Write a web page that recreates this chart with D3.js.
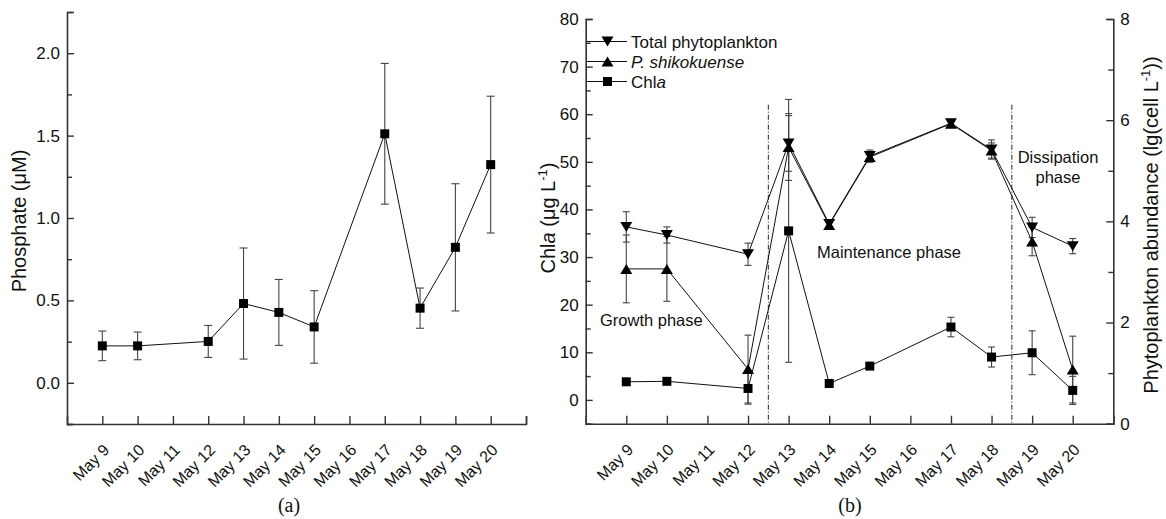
<!DOCTYPE html>
<html>
<head>
<meta charset="utf-8">
<script src="https://cdn.jsdelivr.net/npm/d3@7"></script>
<style>
  body { margin: 0; background: #fff; }
  svg { display: block; font-family: Arial, "Liberation Sans", sans-serif; }
  text { fill: #111; }
  .caption { font-family: "Liberation Serif", "Times New Roman", serif; }
</style>
</head>
<body>
<svg id="chart" width="1166" height="519"></svg>
<script>
// Sampling days (May) and axis tick days
const days = [9, 10, 12, 13, 14, 15, 17, 18, 19, 20];
const tickDays = [9, 10, 11, 12, 13, 14, 15, 16, 17, 18, 19, 20, 21];
const tickLabels = ["May 9", "May 10", "May 11", "May 12", "May 13", "May 14",
                    "May 15", "May 16", "May 17", "May 18", "May 19", "May 20"];

// (a) Phosphate, µM
const phosphate    = [0.224, 0.224, 0.251, 0.481, 0.427, 0.339, 1.511, 0.453, 0.822, 1.324];
const phosphateErr = [0.090, 0.084, 0.097, 0.337, 0.200, 0.220, 0.427, 0.122, 0.386, 0.415];

// (b) Chla, µg L-1
const chla    = [3.8, 3.9, 2.4, 35.5, 3.45, 7.1, 15.3, 9.0, 9.9, 2.0];
const chlaErr = [0.5, 0.5, 3.3, 27.6, 0.6, 0.5, 2.05, 2.1, 4.6, 2.95];

// (b) Phytoplankton abundance, lg(cell L-1)
const totalPhyto    = [3.89, 3.73, 3.35, 5.54, 3.95, 5.29, 5.94, 5.42, 3.88, 3.51];
const totalPhytoErr = [0.30, 0.16, 0.22, 0.55, 0.06, 0.12, 0.05, 0.19, 0.20, 0.15];
const shikokuense    = [3.06, 3.06, 1.08, 5.47, 3.93, 5.27, 5.93, 5.40, 3.60, 1.07];
const shikokuenseErr = [0.67, 0.64, 0.67, 0.66, 0.06, 0.10, 0.05, 0.15, 0.28, 0.66];

// Axis tick values
const phosTicks = [0.0, 0.5, 1.0, 1.5, 2.0];
const phosMinor = [-0.25, 0.25, 0.75, 1.25, 1.75, 2.25];
const chlTicks = [0, 10, 20, 30, 40, 50, 60, 70, 80];
const chlMinor = [-5, 5, 15, 25, 35, 45, 55, 65, 75];
const abTicks = [0, 2, 4, 6, 8];
const abMinor = [1, 3, 5, 7];

// Phase boundaries (day positions) in panel (b)
const phaseBounds = [12.5, 18.5];

const svg = d3.select("#chart");
const AXIS = "#333";
const ERR = "#444";

function squarePath(s) { const h = s / 2; return `M${-h},${-h}H${h}V${h}H${-h}Z`; }
function triUp(w, h) { return `M0,${-h/2}L${w/2},${h/2}L${-w/2},${h/2}Z`; }
function triDown(w, h) { return `M0,${h/2}L${w/2},${-h/2}L${-w/2},${-h/2}Z`; }

function drawXAxis(g, x, y0) {
  const ax = g.append("g").attr("transform", `translate(0,${y0})`)
    .call(d3.axisBottom(x).tickValues(tickDays).tickSize(-8).tickFormat(""));
  ax.select(".domain").attr("stroke", AXIS).attr("stroke-width", 1.6);
  ax.selectAll(".tick line").attr("stroke", AXIS).attr("stroke-width", 1.4);
  g.append("g").selectAll("text").data(tickLabels).join("text")
    .attr("transform", (d, i) => `translate(${x(tickDays[i]) + 8},${y0 + 27}) rotate(-45)`)
    .attr("text-anchor", "end")
    .attr("font-size", 16)
    .text(d => d);
}

function drawYAxis(g, y, x0, ticks, minor, fmt, side) {
  const gen = side === "left" ? d3.axisLeft(y) : d3.axisRight(y);
  const ax = g.append("g").attr("transform", `translate(${x0},0)`)
    .call(gen.tickValues(ticks).tickSize(-7).tickPadding(7).tickFormat(fmt));
  ax.attr("font-family", null).attr("font-size", null);
  ax.select(".domain").attr("stroke", AXIS).attr("stroke-width", 1.6);
  ax.selectAll(".tick line").attr("stroke", AXIS).attr("stroke-width", 1.4);
  ax.selectAll(".tick text").attr("font-size", 17).attr("fill", "#111");
  const mg = g.append("g").attr("transform", `translate(${x0},0)`)
    .call((side === "left" ? d3.axisLeft(y) : d3.axisRight(y))
      .tickValues(minor).tickSize(-5).tickFormat(""));
  mg.select(".domain").remove();
  mg.selectAll(".tick line").attr("stroke", AXIS).attr("stroke-width", 1.4);
}

function drawErrorBars(g, x, y, vals, errs, capW) {
  const pts = days.map((d, i) => ({ d, v: vals[i], e: errs[i] }));
  const eg = g.append("g").attr("stroke", ERR).attr("stroke-width", 1.1).attr("fill", "none");
  pts.forEach(p => {
    const cx = x(p.d), t = y(p.v + p.e), b = y(p.v - p.e);
    eg.append("line").attr("x1", cx).attr("x2", cx).attr("y1", t).attr("y2", b);
    eg.append("line").attr("x1", cx - capW / 2).attr("x2", cx + capW / 2).attr("y1", t).attr("y2", t);
    eg.append("line").attr("x1", cx - capW / 2).attr("x2", cx + capW / 2).attr("y1", b).attr("y2", b);
  });
  return pts;
}

function drawLineMarkers(g, x, y, pts, shape) {
  g.append("path").datum(pts)
    .attr("fill", "none").attr("stroke", "#111").attr("stroke-width", 1)
    .attr("d", d3.line().x(p => x(p.d)).y(p => y(p.v)));
  g.append("g").selectAll("path").data(pts).join("path")
    .attr("transform", p => `translate(${x(p.d)},${y(p.v)})`)
    .attr("d", shape).attr("fill", "#000");
}

// ---------- Panel (a): phosphate ----------
const ga = svg.append("g");
const xa = d3.scaleLinear().domain([8, 21]).range([67, 526]);
const ya = d3.scaleLinear().domain([-0.25, 2.25]).range([424, 12]);

drawYAxis(ga, ya, 67, phosTicks, phosMinor, d3.format(".1f"), "left");
drawXAxis(ga, xa, 424);

const phosPts = drawErrorBars(ga, xa, ya, phosphate, phosphateErr, 8);
drawLineMarkers(ga, xa, ya, phosPts, squarePath(9));

ga.append("text")
  .attr("transform", `translate(26,221) rotate(-90)`)
  .attr("text-anchor", "middle").attr("font-size", 20)
  .text("Phosphate (μM)");

ga.append("text").attr("class", "caption").attr("x", 289).attr("y", 512).attr("text-anchor", "middle")
  .attr("font-size", 20).text("(a)");

// ---------- Panel (b): Chla and abundance ----------
const gb = svg.append("g");
const xb = d3.scaleLinear().domain([8, 21]).range([585.7, 1113.3]);
const yChl = d3.scaleLinear().domain([-5, 80]).range([423.7, 19]);
const yAb = d3.scaleLinear().domain([0, 8]).range([423.7, 19]);

drawYAxis(gb, yChl, 585.7, chlTicks, chlMinor, d3.format("d"), "left");
drawYAxis(gb, yAb, 1113.3, abTicks, abMinor, d3.format("d"), "right");
drawXAxis(gb, xb, 423.7);

// phase boundaries
gb.append("g").selectAll("line").data(phaseBounds).join("line")
  .attr("x1", d => xb(d)).attr("x2", d => xb(d))
  .attr("y1", yChl(62)).attr("y2", 423.7)
  .attr("stroke", "#222").attr("stroke-width", 1)
  .attr("stroke-dasharray", "5,2,1,2");

const totPts = drawErrorBars(gb, xb, yAb, totalPhyto, totalPhytoErr, 7);
const shiPts = drawErrorBars(gb, xb, yAb, shikokuense, shikokuenseErr, 7);
const chlPts = drawErrorBars(gb, xb, yChl, chla, chlaErr, 7);
drawLineMarkers(gb, xb, yAb, totPts, triDown(12, 10));
drawLineMarkers(gb, xb, yAb, shiPts, triUp(12, 10));
drawLineMarkers(gb, xb, yChl, chlPts, squarePath(9));

// phase annotations
gb.append("text").attr("x", 600).attr("y", 326).attr("font-size", 16.5).text("Growth phase");
gb.append("text").attr("x", 817).attr("y", 258).attr("font-size", 16.5).text("Maintenance phase");
gb.append("text").attr("x", 1058).attr("y", 163).attr("font-size", 16.5).attr("text-anchor", "middle").text("Dissipation");
gb.append("text").attr("x", 1058).attr("y", 183).attr("font-size", 16.5).attr("text-anchor", "middle").text("phase");

// legend
const legendItems = [
  { shape: triDown(12, 10), parts: [["Total phytoplankton", "normal"]] },
  { shape: triUp(12, 10), parts: [["P. shikokuense", "italic"]] },
  { shape: squarePath(9), parts: [["Chl", "normal"], ["a", "italic"]] }
];
const lg = gb.append("g");
legendItems.forEach((it, i) => {
  const yy = 41.5 + i * 20;
  lg.append("line").attr("x1", 587).attr("x2", 627).attr("y1", yy).attr("y2", yy)
    .attr("stroke", "#111").attr("stroke-width", 1);
  lg.append("path").attr("transform", `translate(607.5,${yy})`).attr("d", it.shape).attr("fill", "#000");
  const t = lg.append("text").attr("x", 631).attr("y", yy + 6).attr("font-size", 17);
  it.parts.forEach(p => t.append("tspan").attr("font-style", p[1]).text(p[0]));
});

// axis titles
const tl = gb.append("text")
  .attr("transform", `translate(555,218) rotate(-90)`)
  .attr("text-anchor", "middle").attr("font-size", 20);
tl.append("tspan").text("Chl");
tl.append("tspan").attr("font-style", "italic").text("a");
tl.append("tspan").text(" (μg L");
tl.append("tspan").attr("dy", -8).attr("font-size", 13).text("-1");
tl.append("tspan").attr("dy", 8).text(")");

const tr = gb.append("text")
  .attr("transform", `translate(1158,225) rotate(-90)`)
  .attr("text-anchor", "middle").attr("font-size", 20);
tr.append("tspan").text("Phytoplankton abundance (lg(cell L");
tr.append("tspan").attr("dy", -8).attr("font-size", 13).text("-1");
tr.append("tspan").attr("dy", 8).text("))");

gb.append("text").attr("class", "caption").attr("x", 850).attr("y", 512).attr("text-anchor", "middle")
  .attr("font-size", 20).text("(b)");
</script>
</body>
</html>
